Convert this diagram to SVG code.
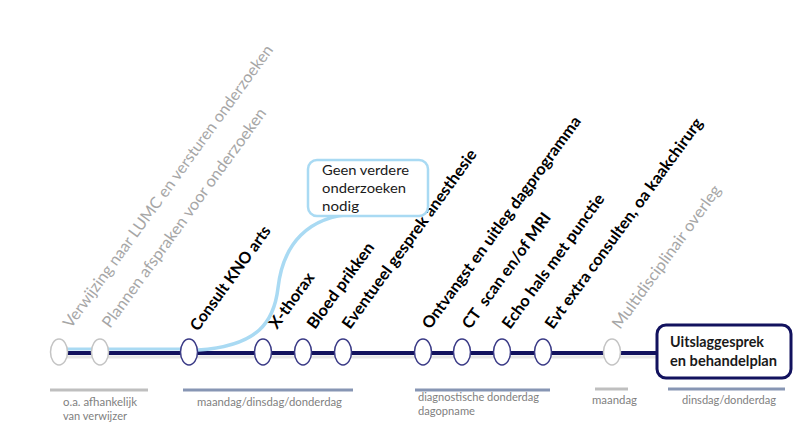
<svg xmlns="http://www.w3.org/2000/svg" width="800" height="434" viewBox="0 0 800 434">
<style>
.lbl{font-family:"Lato","Liberation Sans",sans-serif;font-size:16px}
.b{font-weight:bold;fill:#000}
.g{fill:#a6a6a6}
.small{font-family:"Lato","Liberation Sans",sans-serif;font-size:12px;fill:#7f7f7f}
.box{font-family:"Lato","Liberation Sans",sans-serif;fill:#1a1a1a}
.ng{fill:#fff;stroke:#c4c4c4;stroke-width:1.5}
.nb{fill:#fff;stroke:#3a3a86;stroke-width:1.5}
.pg{stroke:#bfbfbf;stroke-width:3}
.pb{stroke:#8796b4;stroke-width:3}
</style>
<rect width="800" height="434" fill="#fff"/>
<g id="connectors" fill="none">
  <line x1="59" y1="357" x2="657" y2="357" stroke="#e6e6e6" stroke-width="3"/>
  <line x1="59" y1="353" x2="657" y2="353" stroke="#12125e" stroke-width="4"/>
  <line x1="59" y1="349" x2="189" y2="349" stroke="#a9daf3" stroke-width="3"/>
  <path d="M198,350 C258,346 274,322 278,288 C283,244 308,216 355,214" stroke="#a9daf3" stroke-width="3.5"/>
</g>
<g id="n1"><ellipse class="ng" cx="59" cy="352" rx="8.5" ry="13"/>
  <text class="lbl g" transform="rotate(-54 71 329)" x="71" y="329" textLength="345" lengthAdjust="spacingAndGlyphs">Verwijzing naar LUMC en versturen onderzoeken</text></g>
<g id="n2"><ellipse class="ng" cx="100" cy="352" rx="8.5" ry="13"/>
  <text class="lbl g" transform="rotate(-54 110 329)" x="110" y="329" textLength="267" lengthAdjust="spacingAndGlyphs">Plannen afspraken voor onderzoeken</text></g>
<g id="n3"><ellipse class="nb" cx="189" cy="352" rx="8.5" ry="13"/>
  <text class="lbl b" transform="rotate(-54 198 332)" x="198" y="332" textLength="125" lengthAdjust="spacingAndGlyphs">Consult KNO arts</text></g>
<g id="n4"><ellipse class="nb" cx="263" cy="352" rx="8.5" ry="13"/>
  <text class="lbl b" transform="rotate(-54 277 330)" x="277" y="330" textLength="65" lengthAdjust="spacingAndGlyphs">X-thorax</text></g>
<g id="n5"><ellipse class="nb" cx="303" cy="352" rx="8.5" ry="13"/>
  <text class="lbl b" transform="rotate(-54 315 330)" x="315" y="330" textLength="102" lengthAdjust="spacingAndGlyphs">Bloed prikken</text></g>
<g id="n6"><ellipse class="nb" cx="343" cy="352" rx="8.5" ry="13"/>
  <text class="lbl b" transform="rotate(-54 350 330)" x="350" y="330" textLength="217" lengthAdjust="spacingAndGlyphs">Eventueel gesprek anesthesie</text></g>
<g id="n7"><ellipse class="nb" cx="423" cy="352" rx="8.5" ry="13"/>
  <text class="lbl b" transform="rotate(-54 430 330)" x="430" y="330" textLength="258" lengthAdjust="spacingAndGlyphs">Ontvangst en uitleg dagprogramma</text></g>
<g id="n8"><ellipse class="nb" cx="462" cy="352" rx="8.5" ry="13"/>
  <text class="lbl b" transform="rotate(-54 470 330)" x="470" y="330" textLength="139" lengthAdjust="spacingAndGlyphs" xml:space="preserve">CT  scan en/of MRI</text></g>
<g id="n9"><ellipse class="nb" cx="502" cy="352" rx="8.5" ry="13"/>
  <text class="lbl b" transform="rotate(-54 510 330)" x="510" y="330" textLength="162" lengthAdjust="spacingAndGlyphs">Echo hals met punctie</text></g>
<g id="n10"><ellipse class="nb" cx="543" cy="352" rx="8.5" ry="13"/>
  <text class="lbl b" transform="rotate(-54 553 330)" x="553" y="330" textLength="256" lengthAdjust="spacingAndGlyphs">Evt extra consulten, oa kaakchirurg</text></g>
<g id="n11"><ellipse class="ng" cx="612" cy="352" rx="8.5" ry="13"/>
  <text class="lbl g" transform="rotate(-54 620 330)" x="620" y="330" textLength="173" lengthAdjust="spacingAndGlyphs">Multidisciplinair overleg</text></g>
<g id="geen">
  <rect x="308" y="160" width="120" height="56" rx="9" fill="#fff" stroke="#a9daf3" stroke-width="2.5"/>
  <text class="box" font-size="14" x="322" y="175" textLength="87" lengthAdjust="spacingAndGlyphs">Geen verdere</text>
  <text class="box" font-size="14" x="322" y="193" textLength="84" lengthAdjust="spacingAndGlyphs">onderzoeken</text>
  <text class="box" font-size="14" x="322" y="211" textLength="37" lengthAdjust="spacingAndGlyphs">nodig</text>
</g>
<g id="uitslag">
  <rect x="657" y="325" width="134" height="53" rx="9" fill="#fff" stroke="#12125e" stroke-width="3"/>
  <text class="box" font-size="15" font-weight="bold" x="670" y="347" textLength="94" lengthAdjust="spacingAndGlyphs">Uitslaggesprek</text>
  <text class="box" font-size="15" font-weight="bold" x="670" y="366" textLength="107" lengthAdjust="spacingAndGlyphs">en behandelplan</text>
</g>
<g id="periods">
  <line class="pg" x1="50" y1="390" x2="148" y2="390"/>
  <line class="pb" x1="183" y1="390" x2="353" y2="390"/>
  <line class="pb" x1="415" y1="390" x2="550" y2="390"/>
  <line class="pg" x1="595" y1="389" x2="628" y2="389"/>
  <line class="pb" x1="668" y1="389" x2="785" y2="389"/>
  <text class="small" x="63" y="406" textLength="74" lengthAdjust="spacingAndGlyphs">o.a. afhankelijk</text>
  <text class="small" x="63" y="420" textLength="64" lengthAdjust="spacingAndGlyphs">van verwijzer</text>
  <text class="small" x="197" y="406" textLength="145" lengthAdjust="spacingAndGlyphs">maandag/dinsdag/donderdag</text>
  <text class="small" x="418" y="401" textLength="121" lengthAdjust="spacingAndGlyphs">diagnostische donderdag</text>
  <text class="small" x="418" y="415" textLength="57" lengthAdjust="spacingAndGlyphs">dagopname</text>
  <text class="small" x="592" y="404" textLength="45" lengthAdjust="spacingAndGlyphs">maandag</text>
  <text class="small" x="682" y="404" textLength="94" lengthAdjust="spacingAndGlyphs">dinsdag/donderdag</text>
</g>
</svg>
